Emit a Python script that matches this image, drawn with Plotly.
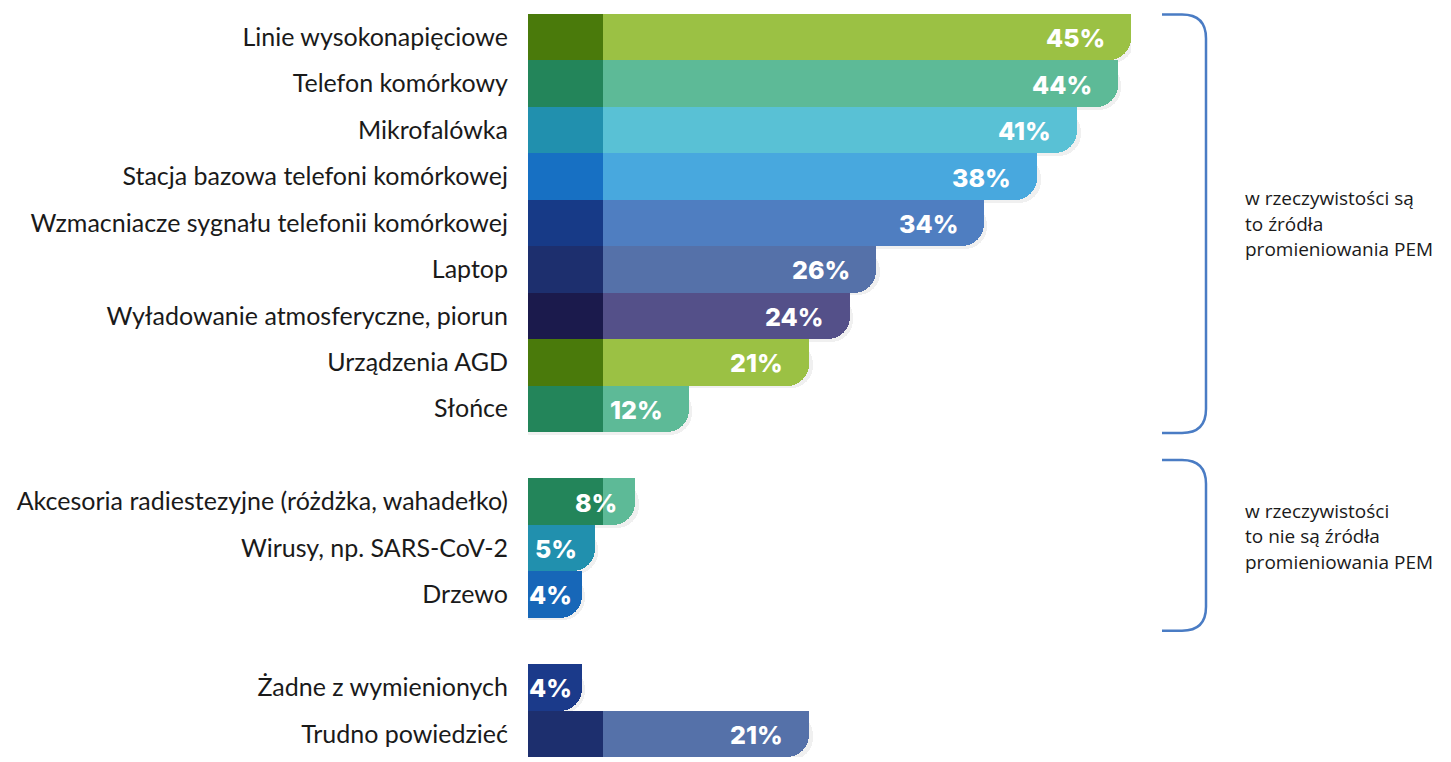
import plotly.graph_objects as go

# ---------------- data ----------------
categories = [
    "Linie wysokonapięciowe",
    "Telefon komórkowy",
    "Mikrofalówka",
    "Stacja bazowa telefoni komórkowej",
    "Wzmacniacze sygnału telefonii komórkowej",
    "Laptop",
    "Wyładowanie atmosferyczne, piorun",
    "Urządzenia AGD",
    "Słońce",
    "Akcesoria radiestezyjne (różdżka, wahadełko)",
    "Wirusy, np. SARS-CoV-2",
    "Drzewo",
    "Żadne z wymienionych",
    "Trudno powiedzieć",
]
values = [45, 44, 41, 38, 34, 26, 24, 21, 12, 8, 5, 4, 4, 21]
groups = [0, 0, 0, 0, 0, 0, 0, 0, 0, 1, 1, 1, 2, 2]

light_colors = ["#9bc144", "#5dba97", "#59c1d5", "#48a8de", "#4f7ec1", "#5571a9", "#545089",
                "#9bc144", "#5dba97", "#5dba97", "#59c1d5", "#48a8de", "#4f7ec1", "#5571a9"]
dark_colors = ["#4a7a0b", "#23855a", "#2190ae", "#1770c3", "#173a87", "#1d2f6e", "#1b1a4c",
               "#4a7a0b", "#23855a", "#23855a", "#2190ae", "#1767b8", "#1b3a8a", "#1d2f6e"]

bracket_texts = [
    ["w rzeczywistości są", "to źródła", "promieniowania PEM"],
    ["w rzeczywistości", "to nie są źródła", "promieniowania PEM"],
]

# ---------------- layout helpers ----------------
W, H = 1451, 762
ML, MR, MT, MB = 528, 320, 13.5, 4.5
PW, PH = W - ML - MR, H - MT - MB
XMAX = 45
DARK = 75 / PW * XMAX  # fixed-width dark segment in axis units


def px(xp):
    return (xp - ML) / PW


def py(yp):
    return 1 - (yp - MT) / PH


# row positions with one blank row between groups
rows = [i + g for i, g in enumerate(groups)]

main_cols = [d if v <= DARK else l for v, l, d in zip(values, light_colors, dark_colors)]

fig = go.Figure()
# soft shadow
fig.add_trace(go.Bar(
    x=[v + 0.25 for v in values], y=rows, orientation="h", width=1, offset=-0.44,
    marker=dict(color="rgba(0,0,0,0.06)", cornerradius=22, line=dict(width=0)),
    hoverinfo="skip", showlegend=False,
))
# rounded bar (rounds both far corners)
fig.add_trace(go.Bar(
    x=values, y=rows, orientation="h", width=1,
    marker=dict(color=main_cols, cornerradius=22, line=dict(width=0)),
    hoverinfo="skip", showlegend=False,
))
# square top half to keep top-right corner sharp
fig.add_trace(go.Bar(
    x=values, y=rows, orientation="h", width=0.5, offset=-0.5,
    marker=dict(color=main_cols, line=dict(width=0)),
    hoverinfo="skip", showlegend=False,
))
# dark left segment
dv = [DARK if v > DARK else 0 for v in values]
fig.add_trace(go.Bar(
    x=dv, y=rows, orientation="h", width=1,
    marker=dict(color=dark_colors, line=dict(width=0)),
    hoverinfo="skip", showlegend=False,
))

# value labels
for v, r in zip(values, rows):
    shift = -24 if v >= 10 else (-16 if v >= 5 else -8)
    fig.add_annotation(
        x=v, y=r, xref="x", yref="y", text=f"{v}%", showarrow=False,
        xanchor="right", yanchor="middle", xshift=shift, yshift=-1,
        font=dict(family="Inter", size=25, color="white", weight=800),
    )

# brackets
brackets = [(14, 433), (460, 631)]
x0, xc = 1162, 1206
rr = 24
for (ya, yb), lines, ty in zip(brackets, bracket_texts, [198, 511]):
    path = (f"M {px(x0)},{py(ya)} L {px(xc - rr)},{py(ya)} "
            f"Q {px(xc)},{py(ya)} {px(xc)},{py(ya + rr)} "
            f"L {px(xc)},{py(yb - rr)} "
            f"Q {px(xc)},{py(yb)} {px(xc - rr)},{py(yb)} "
            f"L {px(x0)},{py(yb)}")
    fig.add_shape(type="path", path=path, xref="paper", yref="paper",
                  line=dict(color="#4a7cc4", width=2.5))
    for k, t in enumerate(lines):
        fig.add_annotation(
            x=px(1243), y=py(ty + 25.5 * k), xref="paper", yref="paper",
            text=t, showarrow=False, xanchor="left", yanchor="middle",
            font=dict(family="Open Sans", size=19, color="#1a1a1a"),
        )

fig.update_layout(
    width=W, height=H, barmode="overlay", bargap=0,
    margin=dict(l=ML, r=MR, t=MT, b=MB),
    paper_bgcolor="white", plot_bgcolor="white",
    xaxis=dict(range=[0, XMAX], visible=False, fixedrange=True),
    yaxis=dict(
        range=[15.5, -0.5], tickvals=rows, ticktext=categories,
        showgrid=False, zeroline=False, showline=False, ticks="",
        ticklabelstandoff=19, automargin=False,
        tickfont=dict(family="Lato", size=25, color="#1a1a1a"),
        fixedrange=True,
    ),
)

fig.write_html(
    "out.html",
    config={"displayModeBar": False},
    post_script="document.body.style.margin='0';document.body.style.padding='0';",
)
